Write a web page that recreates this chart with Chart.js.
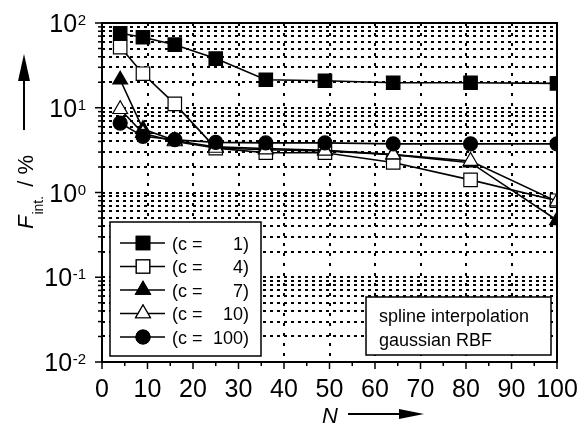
<!DOCTYPE html>
<html>
<head>
<meta charset="utf-8">
<script src="https://cdn.jsdelivr.net/npm/chart.js@4/dist/chart.umd.min.js"></script>
<style>
  html, body { margin: 0; padding: 0; background: #fff; }
  canvas { display: block; }
</style>
</head>
<body>
<canvas id="chart" width="585" height="426"></canvas>
<script>
// N values (x) and F_int. in % for each shape parameter c
const nValues = [4, 9, 16, 25, 36, 49, 64, 81, 100];
const fC1   = [75.6, 67.8, 55.5, 38, 21.4, 20.8, 19.7, 19.7, 19.4];
const fC4   = [52, 25.2, 11.1, 3.34, 2.95, 2.95, 2.26, 1.41, 0.8];
const fC7   = [21.4, 5.6, 4.1, 3.45, 3.3, 3.15, 2.8, 2.25, 0.47];
const fC10  = [9.6, 5.0, 4.0, 3.35, 3.2, 3.1, 2.8, 2.35, 0.78];
const fC100 = [6.6, 4.6, 4.2, 3.9, 3.85, 3.85, 3.75, 3.75, 3.75];

const legendLabels = ['1', '4', '7', '10', '100'];
const xTickValues = [0, 5, 10, 15, 20, 25, 30, 35, 40, 45, 50, 55, 60, 65, 70, 75, 80, 85, 90, 95, 100];
const xLabelValues = [0, 10, 20, 30, 40, 50, 60, 70, 80, 90, 100];
const yExponents = [-2, -1, 0, 1, 2];
const infoLines = ['spline interpolation', 'gaussian RBF'];

const FONT = '"Liberation Sans", Arial, sans-serif';

// minor + major log grid positions
const yGridValues = [];
for (let e = -2; e < 2; e++) {
  for (let m = 1; m < 10; m++) yGridValues.push(m * Math.pow(10, e));
}
yGridValues.push(100);

const toPoints = (vals) => vals.map((v, i) => ({ x: nValues[i], y: v }));

const styles = [
  { style: 'rect', fill: '#000', radius: 9.5 },
  { style: 'rect', fill: '#fff', radius: 9.5 },
  { style: 'triangle', fill: '#000', radius: 8.5 },
  { style: 'triangle', fill: '#fff', radius: 8.5 },
  { style: 'circle', fill: '#000', radius: 7 }
];
const seriesData = [fC1, fC4, fC7, fC10, fC100];

const datasets = seriesData.map((vals, i) => ({
  label: '(c = ' + legendLabels[i] + ')',
  data: toPoints(vals),
  borderColor: '#000',
  borderWidth: 1.6,
  pointStyle: styles[i].style,
  pointRadius: styles[i].radius,
  pointBackgroundColor: styles[i].fill,
  pointBorderColor: '#000',
  pointBorderWidth: 1.2,
  order: seriesData.length - 1 - i, // later series on top
  tension: 0
}));

function drawMarker(ctx, s, x, y) {
  ctx.fillStyle = s.fill;
  ctx.strokeStyle = '#000';
  ctx.lineWidth = 1.2;
  Chart.helpers.drawPoint(ctx, { pointStyle: s.style, radius: s.radius, borderWidth: 1.2 }, x, y);
  ctx.fill();
  ctx.stroke();
}

function arrow(ctx, x1, y1, x2, y2, headLen, headW) {
  const ang = Math.atan2(y2 - y1, x2 - x1);
  const bx = x2 - headLen * Math.cos(ang), by = y2 - headLen * Math.sin(ang);
  ctx.beginPath();
  ctx.moveTo(x1, y1);
  ctx.lineTo(bx, by);
  ctx.stroke();
  ctx.beginPath();
  ctx.moveTo(x2, y2);
  ctx.lineTo(bx + headW / 2 * Math.sin(ang), by - headW / 2 * Math.cos(ang));
  ctx.lineTo(bx - headW / 2 * Math.sin(ang), by + headW / 2 * Math.cos(ang));
  ctx.closePath();
  ctx.fill();
}

const decorations = {
  id: 'decorations',
  afterDatasetsDraw(chart) {
    const { ctx, chartArea: a, scales: { x, y } } = chart;
    ctx.save();
    ctx.setLineDash([]);
    ctx.strokeStyle = '#000';
    ctx.fillStyle = '#000';

    // frame
    ctx.lineWidth = 2;
    ctx.strokeRect(a.left, a.top, a.right - a.left, a.bottom - a.top);

    // x ticks and labels
    ctx.lineWidth = 1.5;
    xTickValues.forEach(v => {
      const px = x.getPixelForValue(v);
      const len = v % 10 === 0 ? 7 : 4;
      ctx.beginPath();
      ctx.moveTo(px, a.bottom);
      ctx.lineTo(px, a.bottom + len);
      ctx.stroke();
    });
    ctx.font = '25px ' + FONT;
    ctx.textAlign = 'center';
    ctx.textBaseline = 'alphabetic';
    xLabelValues.forEach(v => {
      ctx.fillText(String(v), x.getPixelForValue(v), a.bottom + 35);
    });

    // y ticks and labels
    yGridValues.forEach(v => {
      const py = y.getPixelForValue(v);
      const major = Math.abs(Math.log10(v) - Math.round(Math.log10(v))) < 1e-9;
      ctx.beginPath();
      ctx.moveTo(a.left, py);
      ctx.lineTo(a.left - (major ? 7 : 4), py);
      ctx.stroke();
    });
    ctx.textAlign = 'right';
    yExponents.forEach(e => {
      const py = y.getPixelForValue(Math.pow(10, e));
      const sup = String(e);
      ctx.font = '15px ' + FONT;
      const supW = ctx.measureText(sup).width;
      const right = a.left - 16;
      ctx.fillText(sup, right, py + 2);
      ctx.font = '25px ' + FONT;
      ctx.fillText('10', right - supW - 0.5, py + 9);
    });

    // x axis title with arrow
    ctx.textAlign = 'left';
    ctx.font = 'italic 22px ' + FONT;
    ctx.fillText('N', 322, 423);
    ctx.lineWidth = 2;
    arrow(ctx, 348, 414, 424, 414, 25, 10);

    // y axis title (rotated) with arrow
    ctx.save();
    ctx.translate(33, 229);
    ctx.rotate(-Math.PI / 2);
    ctx.textAlign = 'left';
    ctx.font = 'italic 22px ' + FONT;
    ctx.fillText('F', 0, 0);
    let off = ctx.measureText('F').width + 1;
    ctx.font = '14px ' + FONT;
    ctx.fillText('int.', off, 10);
    off += ctx.measureText('int.').width + 3;
    ctx.font = '22px ' + FONT;
    ctx.fillText(' / %', off, 0);
    ctx.restore();
    arrow(ctx, 24, 130, 24, 54, 27, 12);

    // legend box
    ctx.lineWidth = 1.5;
    ctx.fillStyle = '#fff';
    ctx.fillRect(110, 222, 151, 134);
    ctx.strokeRect(110, 222, 151, 134);
    const rowY = [243, 266.5, 290, 313.5, 337];
    datasets.forEach((ds, i) => {
      const yy = rowY[i];
      ctx.strokeStyle = '#000';
      ctx.lineWidth = 1.6;
      ctx.beginPath();
      ctx.moveTo(120, yy);
      ctx.lineTo(165, yy);
      ctx.stroke();
      drawMarker(ctx, styles[i], 143, yy);
      ctx.fillStyle = '#000';
      ctx.font = '18px ' + FONT;
      ctx.textAlign = 'left';
      ctx.fillText('(c =', 172, yy + 6.5);
      ctx.textAlign = 'right';
      ctx.fillText(legendLabels[i] + ')', 249, yy + 6.5);
    });

    // info box
    ctx.fillStyle = '#fff';
    ctx.lineWidth = 1.5;
    ctx.fillRect(366, 297, 185, 58);
    ctx.strokeRect(366, 297, 185, 58);
    ctx.fillStyle = '#000';
    ctx.textAlign = 'left';
    ctx.font = '18px ' + FONT;
    ctx.fillText(infoLines[0], 379, 321.5);
    ctx.fillText(infoLines[1], 379, 345.5);

    ctx.restore();
  }
};

new Chart(document.getElementById('chart').getContext('2d'), {
  type: 'line',
  data: { datasets: datasets },
  options: {
    responsive: false,
    animation: false,
    devicePixelRatio: 1,
    layout: { padding: { left: 102, right: 28, top: 23, bottom: 64 } },
    plugins: {
      legend: { display: false },
      tooltip: { enabled: false }
    },
    scales: {
      x: {
        type: 'linear',
        min: 0,
        max: 100,
        afterBuildTicks: (scale) => { scale.ticks = xTickValues.map(v => ({ value: v })); },
        ticks: { display: false },
        grid: {
          drawTicks: false,
          lineWidth: 2,
          color: (ctx) => {
            const v = ctx.tick ? ctx.tick.value : 0;
            return (v % 10 === 0 && v !== 0 && v !== 100) ? '#000' : 'rgba(0,0,0,0)';
          }
        },
        border: { display: false, dash: [3, 7] }
      },
      y: {
        type: 'logarithmic',
        min: 0.01,
        max: 100,
        afterBuildTicks: (scale) => { scale.ticks = yGridValues.map(v => ({ value: v })); },
        ticks: { display: false },
        grid: { drawTicks: false, lineWidth: 2, color: '#000' },
        border: { display: false, dash: [3, 4] }
      }
    }
  },
  plugins: [decorations]
});
</script>
</body>
</html>
